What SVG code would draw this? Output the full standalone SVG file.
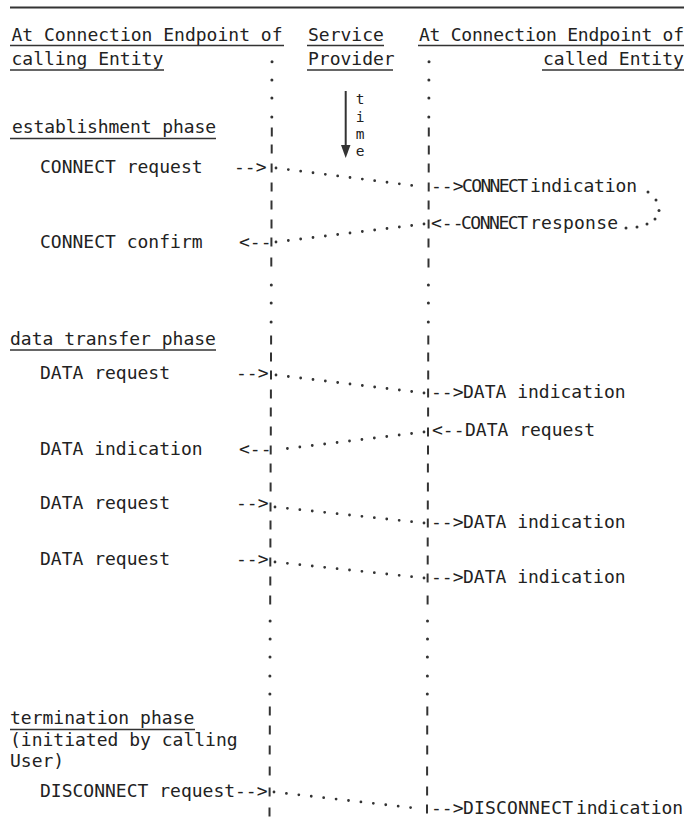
<svg xmlns="http://www.w3.org/2000/svg" xmlns:xlink="http://www.w3.org/1999/xlink" width="686" height="825" viewBox="0 0 686 825">
<style>
.t{font-family:"DejaVu Sans Mono","Liberation Mono",monospace;font-size:18px;fill:#222}
.s{font-size:14.5px}
.ul{stroke:#333;stroke-width:1.5;fill:none}
.dash{stroke:#333;stroke-width:2}
.dot{fill:#333}
.msg{fill:none;stroke:#333;stroke-width:2.8;stroke-linecap:round;stroke-dasharray:0 1}
</style>
<defs>
<line id="d" class="dash" x1="0" y1="-4.5" x2="0" y2="4.5"/>
<circle id="p" class="dot" r="1.5"/>
</defs>
<rect width="686" height="825" fill="#fff"/>
<line x1="10" y1="7.5" x2="684" y2="7.5" stroke="#333" stroke-width="1.8"/>

<g id="hdr-calling">
<text class="t" x="11.5" y="41" textLength="271">At Connection Endpoint of</text>
<line class="ul" x1="10" y1="45.5" x2="284" y2="45.5"/>
<text class="t" x="11.5" y="65">calling Entity</text>
<line class="ul" x1="10" y1="70" x2="164" y2="70"/>
</g>
<g id="hdr-provider">
<text class="t" x="308" y="41">Service</text>
<line class="ul" x1="307" y1="45.5" x2="384" y2="45.5"/>
<text class="t" x="308" y="65">Provider</text>
<line class="ul" x1="307" y1="70" x2="393" y2="70"/>
</g>
<g id="hdr-called">
<text class="t" x="419" y="41" textLength="265">At Connection Endpoint of</text>
<line class="ul" x1="418" y1="45.5" x2="684" y2="45.5"/>
<text class="t" x="543" y="65">called Entity</text>
<line class="ul" x1="542" y1="70" x2="684" y2="70"/>
</g>
<g id="time">
<line x1="345.7" y1="91" x2="345.7" y2="150" stroke="#333" stroke-width="2"/>
<polygon points="341,145 350.5,145 345.7,158" fill="#333"/>
<text class="t s" x="360" y="104" text-anchor="middle">t</text>
<text class="t s" x="360" y="121.5" text-anchor="middle">i</text>
<text class="t s" x="360" y="139" text-anchor="middle">m</text>
<text class="t s" x="360" y="156" text-anchor="middle">e</text>
</g>

<g id="phase-establishment">
<text class="t" x="12" y="133" textLength="204">establishment phase</text>
<line class="ul" x1="10" y1="138.5" x2="216" y2="138.5"/>
</g>
<g id="connect-request"><text class="t" x="40" y="173">CONNECT request</text></g>
<g id="connect-confirm"><text class="t" x="40" y="248">CONNECT confirm</text></g>
<g id="connect-indication"><text class="t" y="192"><tspan x="462" textLength="66">CONNECT</tspan><tspan x="530" textLength="107">indication</tspan></text></g>
<g id="connect-response"><text class="t" y="229"><tspan x="461" textLength="67">CONNECT</tspan><tspan x="530" textLength="88">response</tspan></text></g>

<g id="phase-data">
<text class="t" x="10" y="345">data transfer phase</text>
<line class="ul" x1="10" y1="350" x2="216" y2="350"/>
</g>
<g id="data-request-1"><text class="t" x="40" y="379">DATA request</text></g>
<g id="data-indication-1"><text class="t" x="463" y="398">DATA indication</text></g>
<g id="data-request-2"><text class="t" x="465" y="436">DATA request</text></g>
<g id="data-indication-2"><text class="t" x="40" y="455">DATA indication</text></g>
<g id="data-request-3"><text class="t" x="40" y="509">DATA request</text></g>
<g id="data-indication-3"><text class="t" x="463" y="528">DATA indication</text></g>
<g id="data-request-4"><text class="t" x="40" y="565">DATA request</text></g>
<g id="data-indication-4"><text class="t" x="463" y="583">DATA indication</text></g>

<g id="phase-termination">
<text class="t" x="10" y="724">termination phase</text>
<line class="ul" x1="10" y1="729.5" x2="195" y2="729.5"/>
<text class="t" x="10" y="746">(initiated by calling</text>
<text class="t" x="10" y="767">User)</text>
</g>
<g id="disconnect-request"><text class="t" x="40" y="797">DISCONNECT request</text></g>
<g id="disconnect-indication"><text class="t" y="814"><tspan x="463" textLength="110">DISCONNECT</tspan><tspan x="576" textLength="107">indication</tspan></text></g>

<g id="connectors">
<g id="lifeline-calling">
<use xlink:href="#p" x="272" y="61.7"/><use xlink:href="#p" x="271.9" y="80"/><use xlink:href="#p" x="271.9" y="98"/><use xlink:href="#p" x="271.8" y="117"/>
<use xlink:href="#d" x="271.8" y="132"/><use xlink:href="#d" x="271.7" y="149"/><use xlink:href="#d" x="271.6" y="168"/><use xlink:href="#d" x="271.6" y="187"/><use xlink:href="#d" x="271.5" y="205"/><use xlink:href="#d" x="271.5" y="224"/><use xlink:href="#d" x="271.4" y="242"/><use xlink:href="#d" x="271.3" y="262"/>
<use xlink:href="#p" x="271.3" y="285"/><use xlink:href="#p" x="271.2" y="303"/><use xlink:href="#p" x="271.1" y="322"/>
<use xlink:href="#d" x="271.1" y="340"/><use xlink:href="#d" x="271" y="357"/><use xlink:href="#d" x="271" y="375"/><use xlink:href="#d" x="270.9" y="394"/><use xlink:href="#d" x="270.8" y="412"/><use xlink:href="#d" x="270.8" y="431"/><use xlink:href="#d" x="270.7" y="450"/><use xlink:href="#d" x="270.6" y="468"/><use xlink:href="#d" x="270.6" y="487"/><use xlink:href="#d" x="270.5" y="507"/><use xlink:href="#d" x="270.5" y="525"/><use xlink:href="#d" x="270.4" y="543"/><use xlink:href="#d" x="270.3" y="562"/><use xlink:href="#d" x="270.3" y="581"/><use xlink:href="#d" x="270.2" y="600"/>
<use xlink:href="#p" x="270.1" y="621"/><use xlink:href="#p" x="270.1" y="639"/><use xlink:href="#p" x="270" y="657"/><use xlink:href="#p" x="269.9" y="676"/><use xlink:href="#p" x="269.9" y="694"/>
<use xlink:href="#d" x="269.8" y="711"/><use xlink:href="#d" x="269.8" y="730"/><use xlink:href="#d" x="269.7" y="750"/><use xlink:href="#d" x="269.7" y="771"/><use xlink:href="#d" x="269.6" y="792"/><use xlink:href="#d" x="269.5" y="812"/>
</g>
<g id="lifeline-called">
<use xlink:href="#p" x="429" y="61.7"/><use xlink:href="#p" x="428.9" y="80"/><use xlink:href="#p" x="428.9" y="98"/><use xlink:href="#p" x="428.8" y="117"/>
<use xlink:href="#d" x="428.8" y="132"/><use xlink:href="#d" x="428.8" y="150"/><use xlink:href="#d" x="428.7" y="168"/><use xlink:href="#d" x="428.7" y="187"/><use xlink:href="#d" x="428.6" y="205"/><use xlink:href="#d" x="428.6" y="224"/><use xlink:href="#d" x="428.5" y="243"/><use xlink:href="#d" x="428.5" y="263"/>
<use xlink:href="#p" x="428.4" y="285"/><use xlink:href="#p" x="428.4" y="303"/><use xlink:href="#p" x="428.3" y="322"/>
<use xlink:href="#d" x="428.3" y="340"/><use xlink:href="#d" x="428.2" y="357"/><use xlink:href="#d" x="428.2" y="375"/><use xlink:href="#d" x="428.1" y="393"/><use xlink:href="#d" x="428.1" y="412"/><use xlink:href="#d" x="428" y="432"/><use xlink:href="#d" x="428" y="450"/><use xlink:href="#d" x="427.9" y="468"/><use xlink:href="#d" x="427.9" y="487"/><use xlink:href="#d" x="427.8" y="505"/><use xlink:href="#d" x="427.8" y="523"/><use xlink:href="#d" x="427.7" y="542"/><use xlink:href="#d" x="427.7" y="560"/><use xlink:href="#d" x="427.6" y="578"/><use xlink:href="#d" x="427.6" y="600"/>
<use xlink:href="#p" x="427.5" y="621"/><use xlink:href="#p" x="427.5" y="639"/><use xlink:href="#p" x="427.4" y="657"/><use xlink:href="#p" x="427.4" y="676"/><use xlink:href="#p" x="427.3" y="694"/>
<use xlink:href="#d" x="427.3" y="711"/><use xlink:href="#d" x="427.2" y="730"/><use xlink:href="#d" x="427.2" y="750"/><use xlink:href="#d" x="427.1" y="771"/><use xlink:href="#d" x="427.1" y="791"/><use xlink:href="#d" x="427" y="809"/>
</g>
<g id="messages">
<line class="msg" pathLength="12" x1="276" y1="168" x2="424" y2="187"/>
<line class="msg" pathLength="12" x1="424" y1="224" x2="276" y2="242"/>
<line class="msg" pathLength="12" x1="276" y1="375" x2="424" y2="393"/>
<line class="msg" pathLength="12" x1="424" y1="432" x2="275" y2="450"/>
<line class="msg" pathLength="12" x1="275" y1="507" x2="424" y2="523"/>
<line class="msg" pathLength="12" x1="275" y1="562" x2="424" y2="578"/>
<line class="msg" pathLength="12" x1="274" y1="792" x2="423" y2="809"/>
<g id="response-loop">
<use xlink:href="#p" x="648" y="192"/><use xlink:href="#p" x="656" y="200"/><use xlink:href="#p" x="659" y="210.5"/><use xlink:href="#p" x="655" y="219"/><use xlink:href="#p" x="647" y="224"/><use xlink:href="#p" x="637" y="227"/><use xlink:href="#p" x="626" y="228"/>
</g>
</g>
<g id="arrows">
<text class="t" x="234" y="173">--&gt;</text>
<text class="t" x="239" y="248">&lt;--</text>
<text class="t" x="431" y="192">--&gt;</text>
<text class="t" x="431" y="229">&lt;--</text>
<text class="t" x="236" y="379">--&gt;</text>
<text class="t" x="431" y="398">--&gt;</text>
<text class="t" x="432" y="436">&lt;--</text>
<text class="t" x="239" y="455">&lt;--</text>
<text class="t" x="236" y="509">--&gt;</text>
<text class="t" x="431" y="528">--&gt;</text>
<text class="t" x="236" y="565">--&gt;</text>
<text class="t" x="431" y="583">--&gt;</text>
<text class="t" x="235" y="797">--&gt;</text>
<text class="t" x="431" y="814">--&gt;</text>
</g>
</g>
</svg>
